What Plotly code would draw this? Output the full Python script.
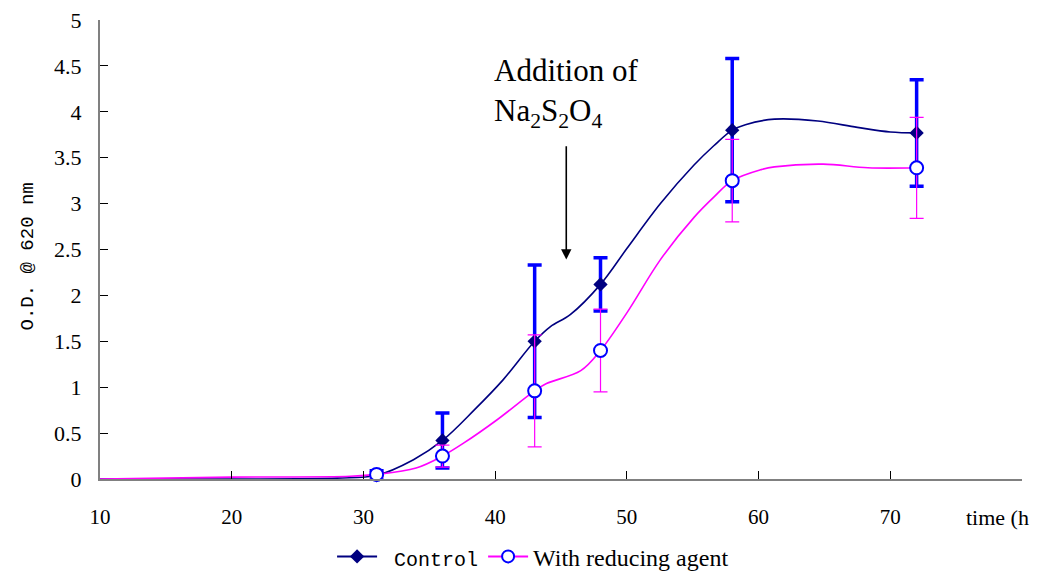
import plotly.graph_objects as go

# ---- data ----
time_pts = [31, 36, 43, 48, 58, 72]
control_od = [0.04, 0.42, 1.50, 2.12, 3.80, 3.77]
control_err = [0.05, 0.30, 0.83, 0.29, 0.78, 0.58]
reduc_od = [0.05, 0.25, 0.96, 1.40, 3.25, 3.39]
reduc_err = [0.03, 0.12, 0.61, 0.45, 0.45, 0.55]

# smoothed curves as drawn
control_curve_t = [10, 20, 28, 31, 33.8, 36, 38.4, 40.6, 43, 44.2, 45.7, 48, 50, 52.55, 55.1, 56.6, 58, 59, 61.2, 64.5, 67.5, 70, 72]
control_curve_y = [0.0, 0.0, 0.01, 0.04, 0.21, 0.42, 0.75, 1.08, 1.50, 1.66, 1.79, 2.12, 2.51, 3.00, 3.42, 3.63, 3.80, 3.86, 3.92, 3.90, 3.83, 3.78, 3.77]
reduc_curve_t = [10, 20, 29, 31, 34, 36, 37.6, 40.1, 43, 43.9, 46.5, 48, 50, 52.55, 55.1, 56.6, 58, 60.2, 61.2, 64.9, 68.3, 72]
reduc_curve_y = [0.0, 0.02, 0.03, 0.05, 0.12, 0.25, 0.39, 0.64, 0.96, 1.04, 1.18, 1.40, 1.81, 2.39, 2.85, 3.07, 3.25, 3.37, 3.40, 3.43, 3.39, 3.39]

y_ticks = [0, 0.5, 1, 1.5, 2, 2.5, 3, 3.5, 4, 4.5, 5]
x_ticks = [10, 20, 30, 40, 50, 60, 70, 80]
x_ticktext = ["10", "20", "30", "40", "50", "60", "70", ""]

NAVY = "#000080"
BLUE = "#0000FF"
MAG = "#FF00FF"

fig = go.Figure()

# curves
fig.add_trace(go.Scatter(x=control_curve_t, y=control_curve_y, mode="lines",
                         line=dict(color=NAVY, width=1.6, shape="spline", smoothing=1.0),
                         showlegend=False, hoverinfo="skip"))
fig.add_trace(go.Scatter(x=reduc_curve_t, y=reduc_curve_y, mode="lines",
                         line=dict(color=MAG, width=1.6, shape="spline", smoothing=1.0),
                         showlegend=False, hoverinfo="skip"))

# control markers with error bars
fig.add_trace(go.Scatter(x=time_pts, y=control_od, mode="markers",
                         marker=dict(symbol="diamond", size=11, color=NAVY),
                         error_y=dict(type="data", array=control_err, visible=True,
                                      color=BLUE, thickness=3.5, width=7),
                         showlegend=False, cliponaxis=False))
# reducing agent markers with error bars
fig.add_trace(go.Scatter(x=time_pts, y=reduc_od, mode="markers",
                         marker=dict(symbol="circle", size=13, color="white",
                                     line=dict(color=BLUE, width=2)),
                         error_y=dict(type="data", array=reduc_err, visible=True,
                                      color=MAG, thickness=1.2, width=7),
                         showlegend=False, cliponaxis=False))

# legend entries
fig.add_trace(go.Scatter(x=[None], y=[None], mode="lines+markers",
                         name='<span style="font-family:Liberation Mono;font-size:20px">&nbsp;Control</span>',
                         line=dict(color=NAVY, width=2),
                         marker=dict(symbol="diamond", size=11, color=NAVY)))
fig.add_trace(go.Scatter(x=[None], y=[None], mode="lines+markers",
                         name="With reducing agent",
                         line=dict(color=MAG, width=2),
                         marker=dict(symbol="circle", size=12, color="white",
                                     line=dict(color=BLUE, width=2))))

# arrow annotation
fig.add_annotation(x=45.4, y=2.39, ax=45.4, ay=3.64, xref="x", yref="y",
                   axref="x", ayref="y", showarrow=True, arrowhead=2,
                   arrowsize=1.3, arrowwidth=1.6, arrowcolor="black", text="")
fig.add_annotation(x=39.75, y=4.66, xref="x", yref="y",
                   text="Addition of<br>Na<sub>2</sub>S<sub>2</sub>O<sub>4</sub>",
                   showarrow=False, xanchor="left", yanchor="top", align="left",
                   font=dict(family="Liberation Serif", size=31, color="black"))

# y axis title
fig.add_annotation(x=-0.078, y=0.485, xref="paper", yref="paper",
                   text="O.D. @ 620 nm", textangle=-90, showarrow=False,
                   xanchor="center", yanchor="middle",
                   font=dict(family="Liberation Mono", size=19, color="black"))
# x axis title
fig.add_annotation(x=0.973, y=-0.083, xref="paper", yref="paper",
                   text="time (h", showarrow=False,
                   xanchor="center", yanchor="middle",
                   font=dict(family="Liberation Serif", size=22, color="black"))

fig.update_layout(
    width=1041, height=574,
    margin=dict(l=100, r=19, t=20, b=95, autoexpand=False),
    paper_bgcolor="white", plot_bgcolor="white",
    font=dict(family="Liberation Serif", size=21, color="black"),
    showlegend=True,
    legend=dict(orientation="h", x=0.319, y=0.03, xref="container", yref="container",
                xanchor="left", yanchor="middle",
                font=dict(family="Liberation Serif", size=24, color="black"),
                itemwidth=40, tracegroupgap=0, bgcolor="rgba(0,0,0,0)"),
    xaxis=dict(range=[10, 80], tickvals=x_ticks, ticktext=x_ticktext,
               showgrid=False, zeroline=False, showline=True, linecolor="#808080",
               linewidth=2, ticks="inside", ticklen=8, tickcolor="black", tickwidth=1,
               ticklabelstandoff=18, tickfont=dict(family="Liberation Serif", size=21)),
    yaxis=dict(range=[0, 5], tickvals=y_ticks,
               showgrid=False, zeroline=False, showline=True, linecolor="#808080",
               linewidth=2, ticks="inside", ticklen=8, tickcolor="black", tickwidth=1,
               ticklabelstandoff=12, tickfont=dict(family="Liberation Serif", size=22)),
)

fig.write_html("out.html")
